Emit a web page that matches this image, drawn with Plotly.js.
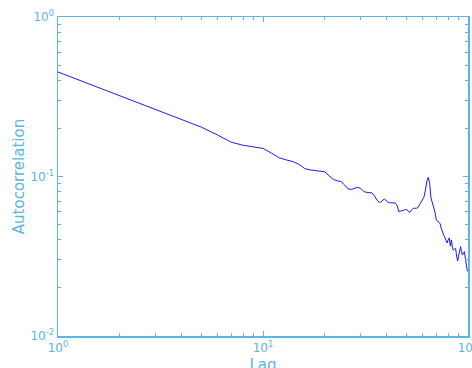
<!DOCTYPE html>
<html>
<head>
<meta charset="utf-8">
<script src="https://cdn.plot.ly/plotly-3.0.1.min.js"></script>
<style>html,body{margin:0;padding:0;background:#fff;overflow:hidden;}#chart{width:472px;height:380px;}</style>
</head>
<body>
<div id="chart"></div>
<script>
const lags = [];
for (let i = 1; i <= 100; i++) lags.push(i);
const autocorr = [
  0.452, 0.321, 0.263, 0.228, 0.204, 0.182, 0.164, 0.157, 0.153, 0.150,
  0.140, 0.131, 0.127, 0.124, 0.119, 0.112, 0.110, 0.109, 0.109, 0.107,
  0.101, 0.096, 0.094, 0.093, 0.0885, 0.0835, 0.083, 0.084, 0.0856, 0.084,
  0.0805, 0.0795, 0.079, 0.079, 0.0755, 0.071, 0.0687, 0.070, 0.0723, 0.070,
  0.0685, 0.0685, 0.0685, 0.0682, 0.0663, 0.0602, 0.0608, 0.0610, 0.0617, 0.0623,
  0.0608, 0.0595, 0.0617, 0.0632, 0.0632, 0.0632, 0.0639, 0.0663, 0.0692, 0.0712,
  0.0744, 0.0823, 0.0937, 0.0989, 0.0907, 0.0733, 0.0682, 0.0644, 0.0599, 0.0534,
  0.0526, 0.0515, 0.0509, 0.0475, 0.0449, 0.0430, 0.0418, 0.0400, 0.0383, 0.0400,
  0.0412, 0.0367, 0.0400, 0.0356, 0.0346, 0.0351, 0.0354, 0.0317, 0.0295, 0.0317,
  0.0346, 0.0363, 0.0336, 0.0322, 0.0331, 0.0338, 0.0308, 0.0275, 0.0259, 0.0253
];
const xTickVals = [1, 10, 100];
const xTickText = ['10<sup>0</sup>', '10<sup>1</sup>', '10<sup>2</sup>'];
const yTickVals = [0.01, 0.1, 1];
const yTickText = ['10<sup>-2</sup>', '10<sup>-1</sup>', '10<sup>0</sup>'];

function minorVals(decades) {
  const out = [];
  decades.forEach(function (d) { for (let k = 2; k <= 9; k++) out.push(k * d); });
  return out;
}

const axisColor = '#5bb5e5';
const font = {family: 'DejaVu Sans', size: 12, color: axisColor};

const trace = {
  x: lags, y: autocorr, type: 'scatter', mode: 'lines',
  line: {color: '#1a1aff', width: 1}, hoverinfo: 'none'
};
const common = {
  type: 'log', showgrid: false, zeroline: false,
  showline: true, linecolor: axisColor, linewidth: 1.5, mirror: 'allticks',
  ticks: 'inside', ticklen: 5, tickcolor: axisColor, tickwidth: 1,
  tickfont: font, automargin: false, ticklabeloverflow: 'allow'
};
const layout = {
  width: 472, height: 380,
  margin: {l: 58, r: 4, t: 17, b: 44},
  paper_bgcolor: '#fff', plot_bgcolor: '#fff',
  showlegend: false,
  xaxis: Object.assign({}, common, {
    range: [0, 2], tickmode: 'array', tickvals: xTickVals, ticktext: xTickText,
    minor: {tickmode: 'array', tickvals: minorVals([1, 10]), ticks: 'inside', ticklen: 3, tickcolor: axisColor, tickwidth: 1, showgrid: false},
    title: {text: 'Lag', font: {family: 'DejaVu Sans', size: 15, color: axisColor}, standoff: 5}
  }),
  yaxis: Object.assign({}, common, {
    range: [-2, 0], tickmode: 'array', tickvals: yTickVals, ticktext: yTickText,
    minor: {tickmode: 'array', tickvals: minorVals([0.01, 0.1]), ticks: 'inside', ticklen: 3, tickcolor: axisColor, tickwidth: 1, showgrid: false},
    title: {text: 'Autocorrelation', font: {family: 'DejaVu Sans', size: 15, color: axisColor}, standoff: 2}
  })
};
Plotly.newPlot('chart', [trace], layout, {staticPlot: true, displayModeBar: false});
</script>
</body>
</html>
